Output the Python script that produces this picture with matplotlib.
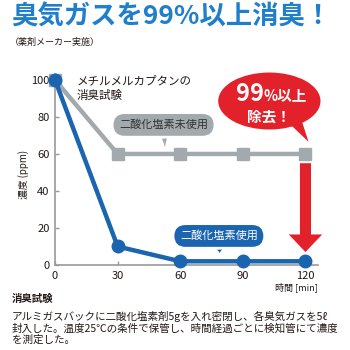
import matplotlib.pyplot as plt
from matplotlib.patches import FancyArrow, Ellipse, Polygon

plt.rcParams['font.family'] = ['Noto Sans CJK JP', 'DejaVu Sans']

# -------------------------
# DATA
# -------------------------
minutes = [0, 30, 60, 90, 120]
without_clo2 = [100, 60, 60, 60, 60]   # 二酸化塩素未使用
with_clo2 = [100, 10, 2, 2, 2]         # 二酸化塩素使用
x_ticks = [0, 30, 60, 90, 120]
y_ticks = [0, 20, 40, 60, 80, 100]

BLUE = "#1a64b0"
TITLE_BLUE = "#1f7fcc"
GRAY = "#a2aaad"
RED = "#e3212b"
TEXT = "#231815"

fig = plt.figure(figsize=(3.5, 3.5), dpi=100)
fig.patch.set_facecolor("white")

# title block
fig.text(11 / 350, 1 - 17 / 350, "臭気ガスを99%以上消臭！", fontsize=19,
         fontweight="bold", color=TITLE_BLUE, va="center", ha="left")
fig.text(10 / 350, 1 - 42 / 350, "（薬剤メーカー実施）", fontsize=6.5,
         color=TEXT, va="center", ha="left")

# -------------------------
# CHART
# -------------------------
ax = fig.add_axes([55 / 350, 1 - 265 / 350, 263 / 350, 191 / 350])
ax.set_xlim(0, 126)
ax.set_ylim(0, 103.2)

ax.plot(minutes, without_clo2, color=GRAY, lw=3.2, marker="s", ms=8,
        mfc=GRAY, mec=GRAY, clip_on=False, zorder=3)
ax.plot(minutes, with_clo2, color=BLUE, lw=3.2, marker="o", ms=9,
        mfc=BLUE, mec=BLUE, clip_on=False, zorder=4)

for s in ["top", "right"]:
    ax.spines[s].set_visible(False)
for s in ["left", "bottom"]:
    ax.spines[s].set_color("#9a9a9a")
    ax.spines[s].set_linewidth(1.2)

ax.set_xticks(x_ticks)
ax.set_yticks(y_ticks)
ax.tick_params(axis="both", direction="in", length=3, width=1, color="#9a9a9a",
               labelsize=8, labelcolor=TEXT, pad=4)

ax.set_ylabel("濃度 (ppm)", fontsize=7, color=TEXT)
ax.yaxis.set_label_coords(-0.1, 0.475)
ax.text(1.0, -0.115, "時間 [min]", transform=ax.transAxes, fontsize=6.5,
        color=TEXT, ha="right", va="center")

# experiment name
ax.text(10.5, 103, "メチルメルカプタンの\n消臭試験", fontsize=8.3, color=TEXT,
        ha="left", va="top", linespacing=1.15)

# gray callout
ax.annotate("二酸化塩素未使用", xy=(52.8, without_clo2[1] + 2), xytext=(52, 75.7),
            fontsize=8, color="#333333", ha="center", va="center",
            bbox=dict(boxstyle="round,pad=0.5,rounding_size=1.0", fc=GRAY, ec="none"),
            arrowprops=dict(arrowstyle="wedge,tail_width=0.45,shrink_factor=0.4",
                            fc=GRAY, ec="none"), zorder=5)

# blue callout
ax.annotate("二酸化塩素使用", xy=(79, with_clo2[2] + 3), xytext=(78.5, 15.7),
            fontsize=8, color="white", ha="center", va="center",
            bbox=dict(boxstyle="round,pad=0.5,rounding_size=1.0", fc=BLUE, ec="none"),
            arrowprops=dict(arrowstyle="wedge,tail_width=0.45,shrink_factor=0.4",
                            fc=BLUE, ec="none"), zorder=5)

# red reduction arrow between the two series at 120 min
top = without_clo2[-1] - 5
tip = with_clo2[-1] + 5
ax.add_patch(FancyArrow(minutes[-1], top, 0, tip - top, width=5.3,
                        head_width=16, head_length=9.5, length_includes_head=True,
                        fc=RED, ec="none", clip_on=False, zorder=5))

# red speech bubble
ax.add_patch(Polygon([(109, 80), (117, 82), (121.5, 66.5)], closed=True,
                     fc=RED, ec="none", clip_on=False, zorder=5))
ax.add_patch(Ellipse((102.7, 88.6), 49, 30.8, fc=RED, ec="none",
                     clip_on=False, zorder=6))
ax.text(100, 92.3, "99", fontsize=17, fontweight="bold", color="white",
        ha="right", va="center", zorder=7)
ax.text(100, 91.6, "%以上", fontsize=10.5, fontweight="bold", color="white",
        ha="left", va="center", zorder=7)
ax.text(102.7, 80.2, "除去！", fontsize=10.5, fontweight="bold", color="white",
        ha="center", va="center", zorder=7)

# -------------------------
# NOTE
# -------------------------
fig.text(12 / 350, 1 - 299 / 350, "消臭試験", fontsize=7.5, fontweight="bold",
         color=TEXT, va="center", ha="left")
note = ["アルミガスバックに二酸化塩素剤5gを入れ密閉し、各臭気ガスを5ℓ",
        "封入した。温度25℃の条件で保管し、時間経過ごとに検知管にて濃度",
        "を測定した。"]
for i, line in enumerate(note):
    fig.text(12 / 350, 1 - (316 + 12 * i) / 350, line, fontsize=7.6,
             color=TEXT, va="center", ha="left")

fig.savefig("out.png", dpi=100)
